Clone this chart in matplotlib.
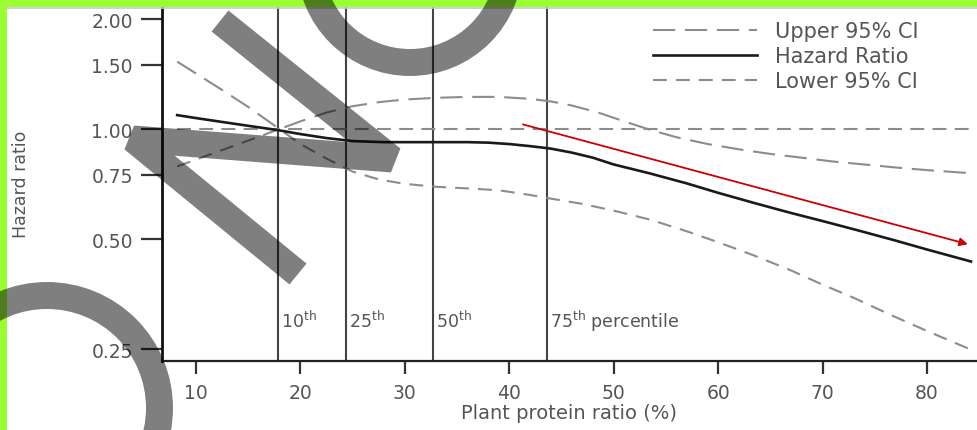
import matplotlib
matplotlib.use("Agg")
import matplotlib.pyplot as plt
from matplotlib.patches import Rectangle, Circle
from matplotlib.lines import Line2D
from matplotlib.transforms import blended_transform_factory

# values
hr_x = [8.2, 10, 12.5, 15, 17.8, 20, 22.5, 25, 28, 32, 36, 38, 40, 42, 44, 46, 48,
        50, 53.4, 57, 60, 63.5, 67, 70, 73.5, 77, 80, 84.2]
hr_y = [1.092, 1.072, 1.046, 1.021, 0.994, 0.969, 0.945, 0.927, 0.921, 0.921, 0.921,
        0.918, 0.91, 0.898, 0.884, 0.862, 0.835, 0.80, 0.757, 0.71, 0.669, 0.627,
        0.589, 0.56, 0.527, 0.495, 0.468, 0.434]

upper_x = [8.2, 10, 12.5, 15, 18, 20, 22.5, 25, 27.5, 30, 33, 36, 39, 42, 44, 46, 48.5,
           51, 53.5, 56, 59, 62, 65, 68, 71, 74, 77, 80, 84.2]
upper_y = [1.53, 1.42, 1.28, 1.15, 1.0, 1.05, 1.11, 1.155, 1.185, 1.205, 1.218, 1.225,
           1.225, 1.21, 1.19, 1.16, 1.11, 1.05, 0.995, 0.95, 0.91, 0.88, 0.855, 0.835,
           0.815, 0.80, 0.785, 0.772, 0.757]

lower_x = [8.2, 10, 12.5, 15, 18, 20, 22.5, 25, 27.5, 30, 33, 36, 39, 42, 44, 47, 50,
           53.5, 57, 60, 63.5, 67, 70, 73, 76.5, 80, 84.2]
lower_y = [0.79, 0.825, 0.876, 0.93, 1.0, 0.91, 0.83, 0.765, 0.728, 0.708, 0.695, 0.688,
           0.68, 0.66, 0.645, 0.624, 0.598, 0.565, 0.525, 0.49, 0.45, 0.41, 0.375,
           0.345, 0.31, 0.28, 0.249]

ref_x = [8.2, 84.2]
ref_y = [1.0, 1.0]

pct_x = [17.9, 24.4, 32.7, 43.6]
pct_labels = ["10$^{\\rm th}$", "25$^{\\rm th}$", "50$^{\\rm th}$",
              "75$^{\\rm th}$ percentile"]
pct_label_y = 0.30

yticks = [0.25, 0.5, 0.75, 1.0, 1.5, 2.0]
ytick_labels = ["0.25", "0.50", "0.75", "1.00", "1.50", "2.00"]
xticks = [10, 20, 30, 40, 50, 60, 70, 80]

arrow_start = (41.3, 1.03)
arrow_end = (83.9, 0.484)

plt.rcParams["font.family"] = ["DejaVu Sans"]
plt.rcParams["lines.scale_dashes"] = False

W, H = 977, 431
fig = plt.figure(figsize=(W / 100, H / 100), dpi=100)
fig.patch.set_facecolor("white")

ax = fig.add_axes([162 / W, 69 / H, 833 / W, 370.8 / H])
ax.set_yscale("log")
ax.set_xlim(6.75, 86.5)
ax.set_ylim(0.2318, 2.4)

gray_txt = "#555555"
dash_col = "#8c8c8c"

# percentile lines
for xv in pct_x:
    ax.axvline(xv, color="#444444", lw=1.5, zorder=1)
for xv, lab in zip(pct_x, pct_labels):
    ax.annotate(lab, (xv, pct_label_y), xytext=(2, 0), textcoords="offset points",
                ha="left", va="center", fontsize=12.5, color=gray_txt)

ax.plot(ref_x, ref_y, color=dash_col, lw=1.5, linestyle=(0, (10, 6)), zorder=2)
ax.plot(upper_x, upper_y, color=dash_col, lw=1.5, linestyle=(0, (16, 7)),
        label="Upper 95% CI", zorder=3)
ax.plot(hr_x, hr_y, color="#1a1a1a", lw=1.9, label="Hazard Ratio", zorder=4)
ax.plot(lower_x, lower_y, color=dash_col, lw=1.5, linestyle=(0, (10, 6.5)),
        label="Lower 95% CI", zorder=3)

ax.annotate("", xy=arrow_end, xytext=arrow_start,
            arrowprops=dict(arrowstyle="-|>", color="#cc0000", lw=1.3,
                            mutation_scale=12, shrinkA=0, shrinkB=0), zorder=6)

ax.set_yticks(yticks)
ax.set_yticklabels(ytick_labels)
ax.yaxis.set_minor_locator(matplotlib.ticker.NullLocator())
ax.set_xticks(xticks)
ax.tick_params(axis="y", length=15, width=1.6, color="#333333", pad=6,
               labelsize=13.5, labelcolor=gray_txt)
ax.tick_params(axis="x", length=9, width=1.6, color="#333333", pad=7,
               labelsize=13.5, labelcolor=gray_txt)
ax.spines["top"].set_visible(False)
ax.spines["right"].set_visible(False)
ax.spines["left"].set_linewidth(2.0)
ax.spines["left"].set_color("#111111")
ax.spines["bottom"].set_linewidth(1.6)
ax.spines["bottom"].set_color("#222222")

ax.set_xlabel("Plant protein ratio (%)", fontsize=14, color=gray_txt, va="top")
ax.xaxis.set_label_coords(45.7, (H - 404) / H,
                          transform=blended_transform_factory(ax.transData, fig.transFigure))
ax.set_ylabel("Hazard ratio", fontsize=12.5, color=gray_txt, va="center")
ax.yaxis.set_label_coords(21 / W, (H - 184) / H, transform=fig.transFigure)

leg = ax.legend(loc="upper left", bbox_to_anchor=(653 / W, (H - 22) / H),
                bbox_transform=fig.transFigure, frameon=False, fontsize=15,
                handlelength=5.0, handletextpad=0.85, labelspacing=0.25,
                borderpad=0, borderaxespad=0)
for t in leg.get_texts():
    t.set_color(gray_txt)

# overlay layer in pixel coordinates: green frame and the gray marks
ov = fig.add_axes([0, 0, 1, 1], zorder=5)
ov.set_xlim(0, W)
ov.set_ylim(H, 0)
ov.axis("off")
ov.patch.set_alpha(0)
green = "#99ff33"
ov.add_patch(Rectangle((0, 0), W, 8, color=green, lw=0, zorder=1))
ov.add_patch(Rectangle((0, 0), 7, H, color=green, lw=0, zorder=1))
ov.plot([7, W], [9, 9], color="#c8c8c8", lw=1.2, zorder=1)

mark = dict(color="black", alpha=0.5, lw=19.4, zorder=3)
ov.add_line(Line2D([298, 133, 392, 220], [275, 140, 160, 22],
                   solid_joinstyle="bevel", solid_capstyle="butt", **mark))
ov.add_patch(Circle((410, -36), 99.5, fill=False, edgecolor="black", alpha=0.5,
                    lw=19.4, zorder=3))
ov.add_patch(Circle((47, 409), 112.5, fill=False, edgecolor="black", alpha=0.5,
                    lw=19.4, zorder=3))

fig.savefig("out.png", dpi=100)
